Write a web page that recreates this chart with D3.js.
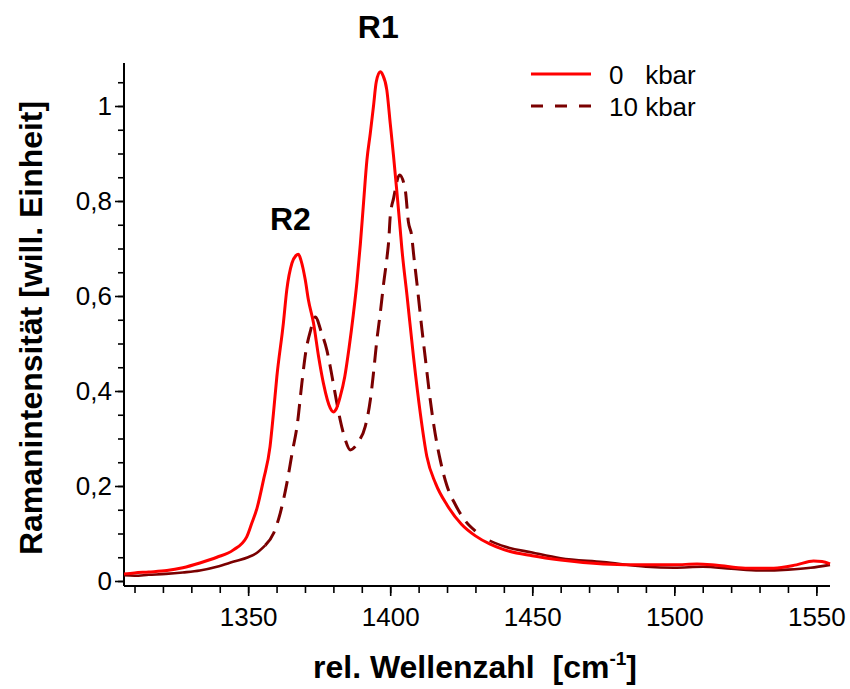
<!DOCTYPE html>
<html>
<head>
<meta charset="utf-8">
<script src="https://cdn.jsdelivr.net/npm/d3@7"></script>
<style>
  body { margin: 0; background: #fff; }
  svg { display: block; font-family: "Liberation Sans", Arial, sans-serif; }
</style>
</head>
<body>
<svg id="chart" width="850" height="689"></svg>
<script>
// Raman spectra (R1/R2 lines) at ambient pressure and at 10 kbar
const seriesNames = ["0   kbar", "10 kbar"];
const seriesColors = ["#ff0000", "#7a0000"];

const shift0 = [1306.3,1310,1315,1321.4,1327,1333,1339,1344.7,1349.5,1351.3,1353.1,1355.4,1357.7,1358.9,1360.1,1362.4,1363.6,1365.4,1366.8,1367.7,1368.6,1370.1,1371.2,1373.0,1374.8,1376.5,1378.9,1380.0,1381.0,1382.4,1384.0,1385.5,1387.0,1388.3,1389.5,1390.6,1391.8,1393.0,1394.1,1395.1,1396.5,1397.4,1398.8,1400.0,1401.2,1402.4,1403.5,1404.1,1405.9,1408.2,1410.6,1412.9,1416,1420,1425,1430,1435,1440,1450,1460,1475,1490,1500,1508,1515,1525,1535,1543,1549,1552,1554.8];
const intensity0 = [0.015,0.017,0.019,0.022,0.028,0.038,0.050,0.065,0.093,0.122,0.153,0.213,0.283,0.353,0.430,0.543,0.613,0.669,0.685,0.688,0.675,0.634,0.592,0.543,0.472,0.416,0.364,0.356,0.362,0.388,0.430,0.490,0.560,0.630,0.710,0.795,0.886,0.943,0.999,1.051,1.072,1.065,1.034,0.964,0.893,0.816,0.742,0.700,0.602,0.472,0.353,0.262,0.205,0.160,0.120,0.095,0.078,0.066,0.053,0.044,0.036,0.034,0.034,0.036,0.033,0.027,0.027,0.034,0.042,0.041,0.036];

const shift10 = [1306.3,1310,1315,1321,1327,1333,1339,1345,1350,1353,1356,1359,1361.3,1363.6,1365.5,1367.3,1368.9,1370.2,1372.0,1373.6,1375.9,1377.7,1378.9,1380.6,1382.4,1384.2,1385.9,1388.8,1391.2,1393.0,1394.1,1395.3,1396.5,1397.7,1398.9,1399.5,1400.0,1401.2,1403.3,1405.3,1406.4,1407.6,1408.2,1409.4,1411.2,1412.3,1414.1,1415.8,1417.6,1420,1423,1426,1430,1435,1440,1450,1460,1475,1490,1500,1510,1520,1530,1540,1548,1554.8];
const intensity10 = [0.012,0.011,0.013,0.015,0.018,0.022,0.030,0.041,0.050,0.059,0.075,0.101,0.143,0.205,0.270,0.330,0.416,0.479,0.528,0.556,0.521,0.486,0.451,0.395,0.339,0.297,0.276,0.293,0.325,0.381,0.437,0.507,0.564,0.627,0.683,0.718,0.767,0.806,0.855,0.823,0.756,0.725,0.690,0.627,0.528,0.472,0.381,0.311,0.255,0.200,0.160,0.130,0.105,0.085,0.073,0.060,0.048,0.040,0.030,0.028,0.030,0.026,0.022,0.024,0.028,0.034];

const xMajorTicks = [1350, 1400, 1450, 1500, 1550];
const xMinorTicks = d3.range(1310, 1551, 10);
const yMajorTicks = [0, 0.2, 0.4, 0.6, 0.8, 1];
const yTickLabels = ["0", "0,2", "0,4", "0,6", "0,8", "1"];
const yMinorTicks = d3.range(0, 1.051, 0.05);

const peakLabels = ["R2", "R1"];
const peakPositions = [1367.7, 1396.5];
const peakHeights = [0.688, 1.072];

const xTitle = "rel. Wellenzahl  [cm";
const yTitle = "Ramanintensität [will. Einheit]";

// layout
const left = 124, right = 830, axisY = 586, axisTop = 63;
const x = d3.scaleLinear().domain([1306.3, 1554.8]).range([left, right]);
const y = d3.scaleLinear().domain([0, 1]).range([581, 106]);

const svg = d3.select("#chart");

// axis lines
svg.append("line").attr("x1", left).attr("x2", right).attr("y1", axisY).attr("y2", axisY)
  .attr("stroke", "#000").attr("stroke-width", 2);
svg.append("line").attr("x1", left).attr("x2", left).attr("y1", axisY).attr("y2", axisTop)
  .attr("stroke", "#000").attr("stroke-width", 2);

// x ticks
const gxMinor = svg.append("g").attr("transform", `translate(0,${axisY})`)
  .call(d3.axisBottom(x).tickValues(xMinorTicks).tickSize(7).tickSizeOuter(0).tickFormat(""));
const gx = svg.append("g").attr("transform", `translate(0,${axisY})`)
  .call(d3.axisBottom(x).tickValues(xMajorTicks).tickSize(10).tickSizeOuter(0).tickFormat(d3.format("d")));
[gxMinor, gx].forEach(g => {
  g.select(".domain").remove();
  g.selectAll(".tick line").attr("stroke-width", 1.6);
});
gx.selectAll("text").attr("dy", null).attr("y", 40)
  .attr("font-size", 26).attr("font-family", "Liberation Sans, Arial, sans-serif").attr("fill", "#000");

// y ticks
const gyMinor = svg.append("g").attr("transform", `translate(${left},0)`)
  .call(d3.axisLeft(y).tickValues(yMinorTicks).tickSize(6).tickSizeOuter(0).tickFormat(""));
const gy = svg.append("g").attr("transform", `translate(${left},0)`)
  .call(d3.axisLeft(y).tickValues(yMajorTicks).tickSize(9).tickSizeOuter(0).tickPadding(3)
    .tickFormat((d, i) => yTickLabels[i]));
[gyMinor, gy].forEach(g => {
  g.select(".domain").remove();
  g.selectAll(".tick line").attr("stroke-width", 1.6);
});
gy.selectAll("text").attr("font-size", 26)
  .attr("font-family", "Liberation Sans, Arial, sans-serif").attr("fill", "#000");

// spectra
const line = d3.line().x(d => x(d[0])).y(d => y(d[1])).curve(d3.curveMonotoneX);
const data0 = shift0.map((s, i) => [s, intensity0[i]]);
const data10 = shift10.map((s, i) => [s, intensity10[i]]);

// 10 kbar: dashed across the bands, the low, densely sampled wings read as a continuous trace
const dashFrom = 1356, dashTo = 1432;
const wingLeft = data10.filter(d => d[0] <= dashFrom);
const band = data10.filter(d => d[0] >= dashFrom && d[0] <= dashTo);
const wingRight = data10.filter(d => d[0] >= dashTo);

[wingLeft, wingRight].forEach(seg => {
  svg.append("path").datum(seg).attr("d", line)
    .attr("fill", "none").attr("stroke", seriesColors[1]).attr("stroke-width", 2.6);
});
svg.append("path").datum(band).attr("d", line)
  .attr("fill", "none").attr("stroke", seriesColors[1]).attr("stroke-width", 3)
  .attr("stroke-dasharray", "17,9");

svg.append("path").datum(data0).attr("d", line)
  .attr("fill", "none").attr("stroke", seriesColors[0]).attr("stroke-width", 3)
  .attr("stroke-linejoin", "round");

// peak labels
const labelDx = [-8, -2];
const labelOffsets = [24, 34];
peakLabels.forEach((lab, i) => {
  svg.append("text").attr("x", x(peakPositions[i]) + labelDx[i])
    .attr("y", y(peakHeights[i]) - labelOffsets[i])
    .attr("text-anchor", "middle").attr("font-weight", "bold").attr("font-size", 32)
    .text(lab);
});

// legend
const legendY = [74, 106];
seriesNames.forEach((name, i) => {
  svg.append("line").attr("x1", 531).attr("x2", 591).attr("y1", legendY[i]).attr("y2", legendY[i])
    .attr("stroke", seriesColors[i]).attr("stroke-width", 3)
    .attr("stroke-dasharray", i === 1 ? "12,12" : null);
  svg.append("text").attr("x", 609).attr("y", legendY[i] + 10)
    .attr("font-size", 26).style("white-space", "pre").text(name);
});

// axis titles
const xt = svg.append("text").attr("x", (left + right) / 2 - 2).attr("y", 678)
  .attr("text-anchor", "middle").attr("font-weight", "bold").attr("font-size", 32)
  .style("white-space", "pre");
xt.append("tspan").text(xTitle);
xt.append("tspan").attr("font-size", 19).attr("dy", -13).text("-1");
xt.append("tspan").attr("dy", 13).text("]");

svg.append("text").attr("transform", "translate(42,328) rotate(-90)")
  .attr("text-anchor", "middle").attr("font-weight", "bold").attr("font-size", 31)
  .attr("textLength", 454).attr("lengthAdjust", "spacingAndGlyphs")
  .text(yTitle);
</script>
</body>
</html>
